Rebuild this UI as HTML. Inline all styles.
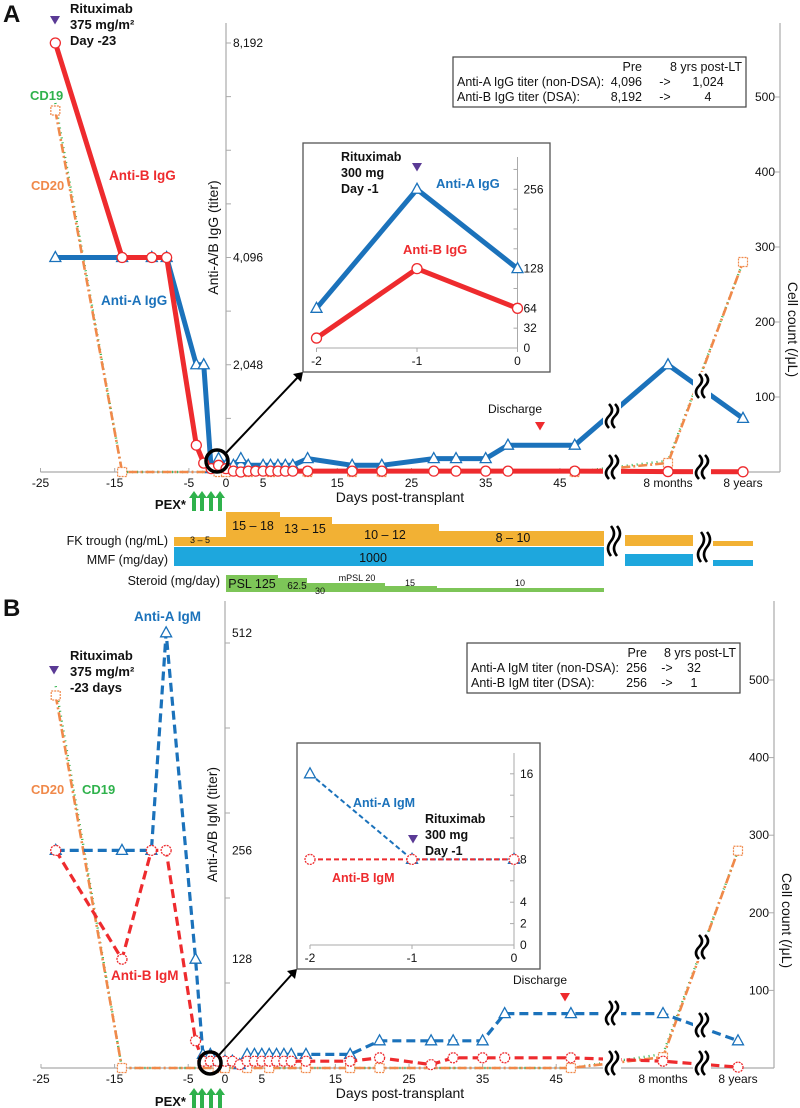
<!DOCTYPE html>
<html><head><meta charset="utf-8"><style>
html,body{margin:0;padding:0;background:#fff;}
svg{display:block;font-family:"Liberation Sans",Arial,sans-serif;}
</style></head><body>
<svg id="fig" width="800" height="1108" viewBox="0 0 800 1108" xmlns="http://www.w3.org/2000/svg"></svg>
<script>
// ===== Panel A data =====
const aBDays=[-23,-14,-10,-8,-4,-3,-2,-1,0,1,2,3,4,5,6,7,8,9,11,17,21,28,31,35,38,47,'8m','8y'];
const aBVals=[8192,4096,4096,4096,512,170,64,128,64,16,0,16,16,16,16,16,16,16,16,16,16,16,16,16,16,16,8,4];
const aADays=[-23,-14,-10,-8,-4,-3,-2,-1,0,1,2,3,5,6,7,8,9,11,17,21,28,31,35,38,47,'8m','8y'];
const aAVals=[4096,4096,4096,4096,2048,2048,64,256,128,128,256,128,128,128,128,128,128,256,128,128,256,256,256,512,512,2048,1024];
const aCDDays=[-23,-14,-1,0,3,6,11,17,21,47,'8m','8y'];
const aCD19=[492,0,0,0,0,0,0,0,0,0,15,280];
const aCD20=[482,0,0,0,0,0,0,0,0,0,12,280];
const aInsetDays=[-2,-1,0];
const aInsetA=[64,256,128];
const aInsetB=[16,128,64];
const aTiterTicks=[2048,4096,8192];
const aTiterLabels=['2,048','4,096','8,192'];
// ===== Panel B data =====
const bBDays=[-23,-14,-10,-8,-4,-3,-2,-1,0,1,2,3,4,5,6,7,8,9,11,17,21,28,31,35,38,47,'8m','8y'];
const bBVals=[256,128,256,256,32,8,8,8,8,8,4,8,8,8,8,8,8,8,8,8,12,4,12,12,12,12,8,1];
const bADays=[-23,-14,-10,-8,-4,-3,-2,-1,0,1,2,3,4,5,6,7,8,9,11,17,21,28,31,35,38,47,'8m','8y'];
const bAVals=[256,256,256,512,128,16,16,8,8,8,4,16,16,16,16,16,16,16,16,16,32,32,32,32,64,64,64,32];
const bCDDays=[-23,-14,-1,0,3,6,11,17,21,47,'8m','8y'];
const bCD19=[492,0,0,0,0,0,0,0,0,0,18,280];
const bCD20=[480,0,0,0,0,0,0,0,0,0,14,280];
const bInsetDays=[-2,-1,0];
const bInsetA=[16,8,8];
const bInsetB=[8,8,8];
const bTiterTicks=[128,256,512];
const bTiterLabels=['128','256','512'];
const xTickDays=[-25,-15,-5,0,5,15,25,35,45];
const cellTicks=[100,200,300,400,500];

const NS='http://www.w3.org/2000/svg';
const svg=document.getElementById('fig');
const BLUE='#1b72bb',RED='#ee2b2e',GREEN='#2fb24c',ORANGE='#f0894a',PURPLE='#5a3a95',GRAY='#aaa';
function el(tag,attrs,parent){const e=document.createElementNS(NS,tag);for(const k in attrs)e.setAttribute(k,attrs[k]);(parent||svg).appendChild(e);return e;}
function txt(x,y,s,o,name){o=o||{};const t=el('text',{x:x,y:y,'font-size':o.size||12,fill:o.fill||'#111','text-anchor':o.anchor||'start','font-weight':o.bold?'bold':'normal'});if(o.rot)t.setAttribute('transform','rotate('+o.rot+' '+x+' '+y+')');t.textContent=s;


return t;}

const xA=d=>typeof d==='number'?226+7.42*d:(d==='8m'?668:743);
const yA=v=>472-v*429/8192;
const cA=v=>472-v*0.75;
const xB=d=>typeof d==='number'?225+7.36*d:(d==='8m'?663:738);
const yB=v=>1068-v*0.85;
const cB=v=>1068-v*0.776;

function series(days,vals,xf,yf,color,w,dash,marker,name){
  const g=el('g',{});
  
  
  const pts=days.map((d,i)=>xf(d)+','+yf(vals[i])).join(' ');
  el('polyline',{points:pts,fill:'none',stroke:color,'stroke-width':w,'stroke-dasharray':dash||'none','stroke-linejoin':'round'},g);
  days.forEach((d,i)=>{const x=xf(d),y=yf(vals[i]);let m;
    if(marker==='circle')m=el('circle',{cx:x,cy:y,r:5,fill:'#fff',stroke:color,'stroke-width':1.3,'stroke-dasharray':dash?'2,1':'none'},g);
    else if(marker==='tri')m=el('polygon',{points:(x)+','+(y-6)+' '+(x-5.5)+','+(y+4)+' '+(x+5.5)+','+(y+4),fill:'#fff',stroke:color,'stroke-width':1.3},g);
    else if(marker==='sq')m=el('rect',{x:x-4.5,y:y-4.5,width:9,height:9,fill:'#fff',stroke:color,'stroke-width':1.2,'stroke-dasharray':'2,1'},g);
    if(m){
      
      
    }});
}
function brk(x,y,h){h=h||24;const g=el('g',{});
  
  
  el('rect',{x:x-9,y:y-h/2-2,width:18,height:h+4,fill:'#fff'},g);
  [-3,3].forEach(o=>{el('path',{d:'M'+(x+o)+','+(y-h/2)+' q6,'+(h/4)+' 0,'+(h/2)+' q-6,'+(h/4)+' 0,'+(h/2),fill:'none',stroke:'#000','stroke-width':2.6},g);});
}
function downTri(x,y,c,s,name){const p=el('polygon',{points:(x-s)+','+y+' '+(x+s)+','+y+' '+x+','+(y+s*1.7),fill:c});
  
  }
function pexArrows(y){const g=el('g',{});
  
  
  [194,202,211,220].forEach(x=>{el('rect',{x:x-2,y:y+5,width:4,height:14,fill:GREEN},g);el('polygon',{points:(x-5)+','+(y+6)+' '+(x+5)+','+(y+6)+' '+x+','+(y-1),fill:GREEN},g);});
  txt(186,y+17,'PEX*',{bold:true,size:13,anchor:'end'},'pex-label');}

function panel(P){
  const ax=el('g',{});
  
  
  el('line',{x1:P.xf(-25),y1:P.base,x2:P.rx,y2:P.base,stroke:GRAY,'stroke-width':1.2},ax);
  el('line',{x1:P.xf(0),y1:P.top,x2:P.xf(0),y2:P.base,stroke:GRAY,'stroke-width':1.2},ax);
  el('line',{x1:P.rx,y1:P.top,x2:P.rx,y2:P.base,stroke:GRAY,'stroke-width':1.2},ax);
  xTickDays.forEach(d=>{el('line',{x1:P.xf(d),y1:P.base,x2:P.xf(d),y2:P.base-4,stroke:GRAY},ax);txt(P.xf(d),P.base+15,String(d),{anchor:'middle',size:12},'x-tick-label');});
  txt(P.xf('8m'),P.base+15,'8 months',{anchor:'middle'},'x-tick-label');
  txt(P.xf('8y'),P.base+15,'8 years',{anchor:'middle'},'x-tick-label');
  txt(400,P.base+30,'Days post-transplant',{anchor:'middle',size:14},'x-axis-title');
  P.minor.forEach(v=>el('line',{x1:P.xf(0),y1:P.yf(v),x2:P.xf(0)+5,y2:P.yf(v),stroke:GRAY},ax));
  P.tTicks.forEach((v,i)=>txt(P.xf(0)+7,P.yf(v)+4,P.tLabels[i],{size:12},'y-tick-label'));
  cellTicks.forEach(v=>{el('line',{x1:P.rx-5,y1:P.cf(v),x2:P.rx,y2:P.cf(v),stroke:GRAY},ax);txt(P.rx-5,P.cf(v)+4,String(v),{anchor:'end'},'y2-tick-label');});
  txt(P.xf(0)-8,(P.top+P.base)/2-10,P.ytitle,{size:14,rot:-90,anchor:'middle'},'y-axis-title');
  txt(P.rx+8,P.cf(190),'Cell count (/\u03bcL)',{size:14,rot:90,anchor:'middle'},'y2-axis-title');
  series(P.cdDays,P.cd19,P.xf,P.cf,GREEN,2.4,'1,4','none','cd19-line');
  series(P.cdDays,P.cd20,P.xf,P.cf,ORANGE,2.6,'9,3,2,3','sq','cd20-line');
  series(P.aDays,P.aVals,P.xf,P.yf,BLUE,P.w,P.dash,'tri','anti-a-line');
  series(P.bDays,P.bVals,P.xf,P.yf,RED,P.w,P.dash,'circle','anti-b-line');
  P.breaks.forEach(b=>brk(b[0],b[1]));
  const zc=el('circle',{cx:P.zc[0],cy:P.zc[1],r:11,fill:'none',stroke:'#000','stroke-width':3.5});
  
  
  const ar=el('line',{x1:P.zc[0]+9,y1:P.zc[1]-8,x2:P.ia[0]-4,y2:P.ia[1]+4,stroke:'#000','stroke-width':2});
  
  
  const ah=el('polygon',{points:P.ia[0]+','+P.ia[1]+' '+(P.ia[0]-10)+','+(P.ia[1]+2)+' '+(P.ia[0]-2)+','+(P.ia[1]+10),fill:'#000'});
  
  
  const I=P.inset;
  const box=el('rect',{x:I.x,y:I.y,width:I.w,height:I.h,fill:'#fff',stroke:'#555','stroke-width':1.3});
  
  
  el('line',{x1:I.xf(-2),y1:I.base,x2:I.xf(0),y2:I.base,stroke:GRAY});
  el('line',{x1:I.xf(0),y1:I.top,x2:I.xf(0),y2:I.base,stroke:GRAY});
  I.days.forEach(d=>{el('line',{x1:I.xf(d),y1:I.base,x2:I.xf(d),y2:I.base+4,stroke:GRAY});txt(I.xf(d),I.base+17,String(d),{anchor:'middle'},'inset-x-tick');});
  I.minor.forEach(v=>el('line',{x1:I.xf(0)-4,y1:I.yf(v),x2:I.xf(0),y2:I.yf(v),stroke:GRAY}));
  I.labels.forEach(v=>txt(I.xf(0)+6,I.yf(v)+4,String(v),{},'inset-y-tick'));
  series(I.days,I.a,I.xf,I.yf,BLUE,P.iw,P.idash,'tri','inset-anti-a-line');
  series(I.days,I.b,I.xf,I.yf,RED,P.iw,P.idash,'circle','inset-anti-b-line');
  const T=P.table;
  const tb=el('rect',{x:T.x,y:T.y,width:T.w,height:50,fill:'#fff',stroke:'#444','stroke-width':1.2});
  
  
  txt(T.c1,T.y+14,'Pre',{anchor:'end',size:12.5},'table-header');
  txt(T.x+T.w-4,T.y+14,'8 yrs post-LT',{anchor:'end',size:12.5},'table-header');
  T.rows.forEach((r,i)=>{const yy=T.y+29+i*15;txt(T.x+4,yy,r[0],{size:12.5},'table-row-label');txt(T.c1,yy,r[1],{anchor:'end',size:12.5},'table-pre');txt(T.c2,yy,'->',{anchor:'middle',size:12.5},'table-arrow');txt(T.c3,yy,r[2],{anchor:'middle',size:12.5},'table-post');});
  txt(P.dis[0],P.dis[1],'Discharge',{anchor:'middle',size:12},'discharge-label');
  downTri(P.dis[0]+25,P.dis[1]+9,RED,5,'discharge-marker');
  pexArrows(P.pexY);
}

// Panel A
txt(3,22,'A',{bold:true,size:24},'panel-a-label');
panel({id:'panel-a',xf:xA,yf:yA,cf:cA,base:472,top:23,rx:780,w:5,dash:null,iw:5,idash:null,
  minor:[1024,2048,3072,4096,5120,6144,7168,8192],tTicks:aTiterTicks,tLabels:aTiterLabels,ytitle:'Anti-A/B IgG (titer)',
  aDays:aADays,aVals:aAVals,bDays:aBDays,bVals:aBVals,cdDays:aCDDays,cd19:aCD19,cd20:aCD20,
  breaks:[[612,416],[612,467],[702,386],[702,467]],zc:[217,461],ia:[303,372],
  inset:{x:303,y:143,w:247,h:229,base:348,top:157,xf:d=>417+100.5*(d+1),yf:v=>348-v*0.62,minor:[0,32,64,96,128,160,192,224,256,288],labels:[0,32,64,128,256],days:aInsetDays,a:aInsetA,b:aInsetB},
  table:{x:453,y:57,w:293,c1:642,c2:665,c3:708,rows:[['Anti-A IgG titer (non-DSA):','4,096','1,024'],['Anti-B IgG titer (DSA):','8,192','4']]},
  dis:[515,413],pexY:492});
downTri(55,16,PURPLE,5,'rituximab-marker');
txt(70,13,'Rituximab',{bold:true,size:13},'rituximab-label');
txt(70,29,'375 mg/m\u00b2',{bold:true,size:13},'rituximab-dose');
txt(70,45,'Day -23',{bold:true,size:13},'rituximab-day');
txt(30,100,'CD19',{bold:true,size:13,fill:GREEN},'cd19-label');
txt(31,190,'CD20',{bold:true,size:13,fill:ORANGE},'cd20-label');
txt(109,180,'Anti-B IgG',{bold:true,size:13.5,fill:RED},'anti-b-label');
txt(101,305,'Anti-A IgG',{bold:true,size:13.5,fill:BLUE},'anti-a-label');
downTri(417,163,PURPLE,5,'inset-rituximab-marker');
txt(341,161,'Rituximab',{bold:true,size:12.5},'inset-rituximab-label');
txt(341,177,'300 mg',{bold:true,size:12.5},'inset-rituximab-dose');
txt(341,193,'Day -1',{bold:true,size:12.5},'inset-rituximab-day');
txt(436,188,'Anti-A IgG',{bold:true,size:13,fill:BLUE},'inset-anti-a-label');
txt(403,254,'Anti-B IgG',{bold:true,size:13,fill:RED},'inset-anti-b-label');

function bar(x1,x2,y1,y2,c,name){const r=el('rect',{x:x1,y:y1,width:x2-x1,height:y2-y1,fill:c});
  
  }
const FK='#f2b134',MMF='#1ea7dd',ST='#7dc558';
bar(174,226,537,546,FK,'fk-bar');bar(226,280,512,546,FK,'fk-bar');bar(280,332,517,546,FK,'fk-bar');bar(332,439,524,546,FK,'fk-bar');bar(439,604,531,546,FK,'fk-bar');
bar(625,693,535,546,FK,'fk-bar');bar(713,753,541,546,FK,'fk-bar');
bar(174,604,547,566,MMF,'mmf-bar');bar(625,693,554,566,MMF,'mmf-bar');bar(713,753,560,566,MMF,'mmf-bar');
bar(226,278,575,592,ST,'steroid-bar');bar(278,307,578,592,ST,'steroid-bar');bar(307,385,583,592,ST,'steroid-bar');bar(385,437,586,592,ST,'steroid-bar');bar(437,604,588,592,ST,'steroid-bar');
brk(614,541,30);brk(704,547,30);
txt(168,545,'FK trough (ng/mL)',{anchor:'end',size:12.5},'fk-label');
txt(168,564,'MMF (mg/day)',{anchor:'end',size:12.5},'mmf-label');
txt(220,585,'Steroid (mg/day)',{anchor:'end',size:12.5},'steroid-label');
txt(200,543,'3 \u2013 5',{anchor:'middle',size:9},'fk-value');
txt(253,530,'15 \u2013 18',{anchor:'middle',size:12.5},'fk-value');
txt(305,533,'13 \u2013 15',{anchor:'middle',size:12.5},'fk-value');
txt(385,539,'10 \u2013 12',{anchor:'middle',size:12.5},'fk-value');
txt(513,542,'8 \u2013 10',{anchor:'middle',size:12.5},'fk-value');
txt(373,562,'1000',{anchor:'middle',size:12.5},'mmf-value');
txt(252,588,'PSL 125',{anchor:'middle',size:12.5},'steroid-value');
txt(297,589,'62.5',{anchor:'middle',size:10},'steroid-value');
txt(320,594,'30',{anchor:'middle',size:9},'steroid-value');
txt(357,581,'mPSL 20',{anchor:'middle',size:9},'steroid-value');
txt(410,586,'15',{anchor:'middle',size:9},'steroid-value');
txt(520,586,'10',{anchor:'middle',size:9},'steroid-value');

// Panel B
txt(3,616,'B',{bold:true,size:24},'panel-b-label');
panel({id:'panel-b',xf:xB,yf:yB,cf:cB,base:1068,top:601,rx:774,w:3.2,dash:'9,5',iw:2,idash:'5,3',
  minor:[100,200,300,400,500],tTicks:bTiterTicks,tLabels:bTiterLabels,ytitle:'Anti-A/B IgM (titer)',
  aDays:bADays,aVals:bAVals,bDays:bBDays,bVals:bBVals,cdDays:bCDDays,cd19:bCD19,cd20:bCD20,
  breaks:[[612,1013],[612,1063],[702,947],[702,1025],[702,1063]],zc:[210,1063],ia:[297,969],
  inset:{x:297,y:743,w:243,h:226,base:945,top:753,xf:d=>412+102*(d+1),yf:v=>945-v*10.7,minor:[0,2,4,6,8,10,12,14,16],labels:[0,2,4,8,16],days:bInsetDays,a:bInsetA,b:bInsetB},
  table:{x:467,y:643,w:273,c1:647,c2:667,c3:694,rows:[['Anti-A IgM titer (non-DSA):','256','32'],['Anti-B IgM titer (DSA):','256','1']]},
  dis:[540,984],pexY:1089});
downTri(54,666,PURPLE,5,'rituximab-marker');
txt(70,660,'Rituximab',{bold:true,size:13},'rituximab-label');
txt(70,676,'375 mg/m\u00b2',{bold:true,size:13},'rituximab-dose');
txt(70,692,'-23 days',{bold:true,size:13},'rituximab-day');
txt(134,621,'Anti-A IgM',{bold:true,size:13.5,fill:BLUE},'anti-a-label');
txt(31,794,'CD20',{bold:true,size:13,fill:ORANGE},'cd20-label');
txt(82,794,'CD19',{bold:true,size:13,fill:GREEN},'cd19-label');
txt(111,980,'Anti-B IgM',{bold:true,size:13.5,fill:RED},'anti-b-label');
txt(353,807,'Anti-A IgM',{bold:true,size:12.5,fill:BLUE},'inset-anti-a-label');
txt(332,882,'Anti-B IgM',{bold:true,size:12.5,fill:RED},'inset-anti-b-label');
downTri(413,835,PURPLE,5,'inset-rituximab-marker');
txt(425,823,'Rituximab',{bold:true,size:12.5},'inset-rituximab-label');
txt(425,839,'300 mg',{bold:true,size:12.5},'inset-rituximab-dose');
txt(425,855,'Day -1',{bold:true,size:12.5},'inset-rituximab-day');
</script>
</body></html>
